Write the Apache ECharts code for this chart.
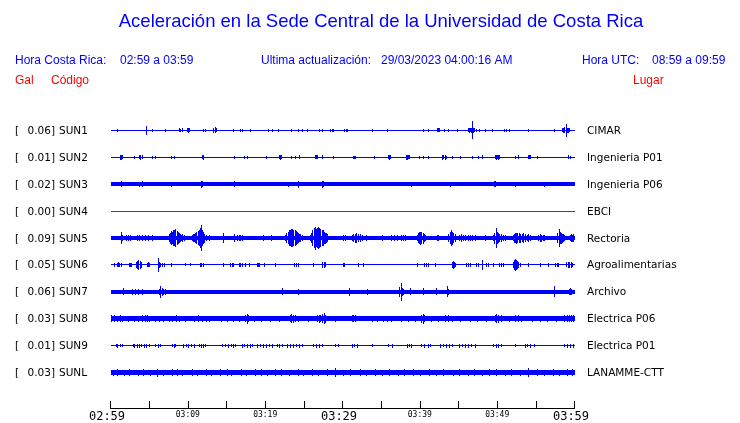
<!DOCTYPE html>
<html><head><meta charset="utf-8">
<script src="https://cdn.jsdelivr.net/npm/echarts@6/dist/echarts.min.js"></script>
<style>html,body{margin:0;padding:0;background:#fff}#c{width:740px;height:423px}</style>
</head><body><div id="c"></div>
<script>
// ---------- DATA ----------
const codes  = ['SUN1','SUN2','SUN3','SUN4','SUN5','SUN6','SUN7','SUN8','SUN9','SUNL'];
const places = ['CIMAR','Ingenieria P01','Ingenieria P06','EBCI','Rectoria','Agroalimentarias','Archivo','Electrica P06','Electrica P01','LANAMME-CTT'];
const peaks  = [0.06,0.01,0.02,0.00,0.09,0.05,0.06,0.03,0.01,0.03];      // gal
const noise  = [0,0,0.011,0,0.012,0,0.011,0.014,0,0.014];                  // background half-amplitude, gal
const tickLabels = ['02:59','03:09','03:19','03:29','03:39','03:49','03:59'];
// spikes: [minute after 02:59, half amplitude in gal]
const sun1 = [[0.86,0.008],[4.56,0.03],[5.33,0.006],[7.0,0.008],[8.8,0.01],[9.0,0.008],[9.3,0.01],[9.9,0.011],[10.05,0.012],[10.2,0.01],[11.96,0.008],[12.26,0.007],[13.3,0.012],[13.45,0.018],[13.6,0.01],[15.8,0.007],[16.8,0.009],[16.95,0.008],[18.1,0.007],[20.4,0.008],[20.9,0.007],[21.7,0.006],[23.4,0.007],[24.2,0.008],[24.7,0.007],[25.4,0.008],[26.9,0.008],[27.4,0.009],[28.4,0.009],[28.6,0.007],[28.8,0.008],[30.2,0.008],[30.4,0.009],[30.6,0.008],[33.8,0.008],[35.8,0.007],[40.4,0.007],[41.0,0.008],[42.2,0.011],[42.35,0.01],[42.5,0.011],[43.1,0.007],[43.7,0.008],[44.8,0.008],[46.2,0.01],[46.35,0.012],[46.5,0.011],[46.6,0.015],[46.75,0.06],[46.9,0.014],[47.05,0.011],[47.2,0.009],[47.6,0.007],[48.4,0.008],[49.3,0.009],[50.9,0.008],[51.2,0.007],[51.5,0.008],[54.0,0.006],[57.3,0.007],[58.4,0.01],[58.55,0.014],[58.7,0.018],[58.85,0.04],[59.0,0.015],[59.15,0.012],[59.3,0.01]];
const sun2 = [[1.2,0.012],[1.32,0.012],[1.44,0.011],[3.05,0.009],[3.66,0.011],[3.8,0.012],[4.13,0.01],[5.38,0.009],[5.8,0.008],[7.8,0.008],[8.17,0.009],[11.8,0.011],[11.92,0.012],[16.0,0.008],[17.25,0.008],[17.68,0.008],[20.1,0.007],[21.8,0.011],[21.95,0.012],[22.1,0.011],[23.4,0.008],[23.8,0.009],[24.4,0.011],[26.45,0.011],[26.6,0.01],[26.72,0.011],[27.35,0.01],[28.8,0.009],[31.3,0.009],[31.45,0.008],[31.6,0.009],[34.1,0.008],[35.9,0.011],[36.05,0.012],[36.2,0.01],[38.15,0.012],[38.3,0.012],[38.45,0.011],[38.65,0.01],[39.9,0.008],[40.4,0.009],[41.0,0.008],[42.9,0.012],[43.05,0.011],[43.2,0.012],[43.4,0.009],[44.1,0.008],[45.2,0.009],[46.7,0.008],[47.5,0.009],[48.1,0.01],[49.7,0.011],[49.85,0.012],[50.0,0.011],[50.15,0.012],[50.3,0.011],[52.3,0.009],[52.7,0.01],[54.0,0.011],[54.15,0.01],[54.3,0.011],[55.1,0.008],[59.1,0.01],[59.4,0.009]];
const sun3 = [[1.37,0.018],[3.74,0.015],[4.09,0.016],[7.8,0.014],[11.74,0.02],[11.87,0.016],[16.0,0.019],[22.9,0.015],[24.2,0.022],[27.4,0.021],[27.53,0.016],[38.8,0.014],[43.9,0.015],[49.6,0.017],[49.72,0.019],[52.3,0.014],[56.1,0.013]];
const sun4 = [];
const sun5 = [[1.37,0.038],[1.5,0.02],[1.94,0.018],[2.2,0.02],[2.58,0.017],[3.4,0.017],[3.7,0.02],[4.1,0.018],[4.5,0.017],[4.9,0.019],[5.4,0.016],
 [7.5,0.025],[7.65,0.035],[7.8,0.045],[7.95,0.04],[8.1,0.055],[8.25,0.05],[8.4,0.06],[8.55,0.045],[8.7,0.038],[8.85,0.03],[9.0,0.025],[9.15,0.02],[9.3,0.022],[9.45,0.017],
 [10.5,0.018],[10.65,0.022],[10.8,0.026],[10.95,0.03],[11.1,0.038],[11.25,0.045],[11.4,0.05],[11.55,0.065],[11.7,0.088],[11.85,0.055],[12.0,0.04],[12.15,0.028],[12.3,0.02],
 [12.8,0.018],[14.5,0.03],[16.0,0.022],[16.3,0.02],[16.6,0.018],[16.8,0.02],[17.0,0.017],[19.7,0.016],[20.7,0.016],
 [22.6,0.02],[22.75,0.03],[22.9,0.04],[23.05,0.05],[23.2,0.055],[23.35,0.06],[23.5,0.063],[23.65,0.055],[23.8,0.05],[23.95,0.045],[24.1,0.04],[24.25,0.03],[24.4,0.025],[24.55,0.022],[24.7,0.02],
 [25.8,0.02],[25.95,0.03],[26.1,0.05],[26.25,0.065],[26.4,0.078],[26.55,0.06],[26.7,0.07],[26.85,0.075],[27.0,0.065],[27.15,0.06],[27.3,0.055],[27.45,0.05],[27.6,0.04],[27.75,0.035],[27.9,0.03],[28.05,0.022],
 [30.1,0.02],[30.3,0.018],[31.2,0.02],[31.4,0.025],[31.6,0.028],[31.8,0.03],[32.0,0.025],[32.2,0.022],[32.5,0.018],
 [33.1,0.016],[35.05,0.017],[36.3,0.016],[36.7,0.018],[37.1,0.017],[37.5,0.016],[37.8,0.018],[38.1,0.016],
 [39.6,0.02],[39.75,0.03],[39.9,0.038],[40.05,0.042],[40.2,0.04],[40.35,0.035],[40.5,0.025],[40.65,0.018],
 [42.2,0.017],[42.4,0.018],[43.7,0.025],[43.85,0.04],[44.0,0.05],[44.15,0.042],[44.3,0.032],[44.5,0.022],
 [45.0,0.02],[45.3,0.022],[45.6,0.02],[45.9,0.018],[46.2,0.02],[46.5,0.018],[46.8,0.02],[47.1,0.017],
 [48.4,0.017],[49.5,0.02],[49.65,0.035],[49.8,0.07],[49.95,0.04],[50.1,0.03],[50.3,0.025],[50.5,0.022],[50.75,0.02],[51.0,0.018],
 [52.0,0.02],[52.15,0.028],[52.3,0.032],[52.45,0.035],[52.6,0.03],[52.8,0.033],[53.0,0.028],[53.2,0.025],[53.4,0.03],[53.6,0.025],[53.8,0.02],[54.0,0.022],[54.2,0.018],
 [55.3,0.02],[55.5,0.022],[55.7,0.021],[55.9,0.02],[56.1,0.018],
 [57.8,0.03],[57.95,0.058],[58.1,0.04],[58.25,0.035],[58.4,0.028],[58.55,0.025],[58.7,0.02],
 [59.4,0.02],[59.55,0.022],[59.7,0.021],[59.85,0.022]];
const sun6 = [[0.43,0.008],[0.86,0.012],[1.0,0.014],[1.15,0.013],[1.3,0.012],[2.4,0.012],[2.55,0.013],[2.67,0.011],[3.3,0.015],[3.45,0.025],[3.6,0.035],[3.75,0.028],[3.9,0.018],[4.73,0.012],[4.85,0.014],[4.97,0.012],[6.1,0.045],[6.25,0.015],[6.45,0.01],[6.7,0.009],[6.9,0.01],[7.83,0.009],[9.6,0.007],[10.3,0.007],[11.6,0.012],[11.75,0.013],[11.9,0.012],[14.6,0.01],[15.5,0.012],[15.7,0.013],[15.9,0.012],[16.6,0.012],[16.8,0.013],[17.0,0.012],[17.4,0.009],[17.9,0.008],[18.9,0.012],[19.05,0.013],[19.2,0.012],[19.9,0.008],[21.3,0.009],[23.7,0.011],[23.95,0.01],[24.2,0.012],[26.2,0.008],[27.4,0.015],[27.55,0.02],[27.75,0.014],[30.0,0.012],[30.12,0.013],[30.24,0.012],[32.0,0.009],[32.7,0.009],[39.6,0.008],[40.6,0.011],[40.8,0.012],[41.0,0.011],[41.9,0.008],[44.1,0.02],[44.25,0.028],[44.4,0.02],[44.6,0.013],[46.0,0.012],[46.2,0.013],[46.45,0.011],[47.3,0.01],[47.5,0.011],[48.0,0.035],[48.5,0.01],[48.8,0.009],[49.5,0.01],[50.3,0.012],[50.5,0.013],[50.75,0.011],[52.0,0.02],[52.15,0.03],[52.3,0.042],[52.45,0.035],[52.6,0.025],[52.75,0.018],[52.9,0.012],[54.0,0.009],[55.5,0.01],[56.6,0.008],[57.5,0.011],[57.7,0.013],[57.9,0.011],[58.9,0.014],[59.1,0.018],[59.3,0.02],[59.5,0.016],[59.7,0.013]];
const sun7 = [[1.63,0.022],[2.8,0.016],[3.2,0.015],[3.6,0.016],[4.1,0.015],[6.3,0.02],[6.45,0.04],[6.6,0.025],[6.8,0.018],[7.0,0.016],[22.15,0.022],[24.2,0.018],[30.9,0.025],[33.2,0.015],[37.35,0.03],[37.5,0.06],[37.65,0.025],[37.8,0.017],[38.7,0.021],[40.35,0.021],[42.1,0.021],[43.5,0.035],[43.62,0.02],[57.4,0.035],[59.3,0.018],[59.42,0.022],[59.55,0.018]];
const sun8 = [[0.1,0.02],[0.4,0.021],[0.8,0.019],[1.2,0.02],[1.5,0.018],[2.3,0.018],[3.0,0.017],[3.6,0.018],[4.1,0.02],[4.4,0.022],[4.7,0.021],[5.0,0.019],[5.8,0.018],[6.3,0.019],[6.8,0.018],[7.5,0.019],[8.0,0.018],[8.5,0.02],[8.8,0.018],[9.6,0.018],[10.8,0.019],[11.3,0.02],[11.8,0.019],[12.3,0.018],[12.7,0.019],[14.3,0.018],[15.0,0.019],[15.8,0.018],[16.6,0.019],[17.45,0.022],[17.6,0.032],[17.75,0.022],[18.5,0.018],[19.4,0.019],[20.6,0.018],[21.8,0.018],[23.2,0.022],[23.4,0.028],[23.6,0.024],[23.9,0.02],[24.3,0.018],[25.5,0.018],[26.7,0.02],[26.9,0.024],[27.1,0.022],[27.4,0.028],[27.55,0.035],[27.75,0.024],[29.0,0.017],[31.2,0.02],[31.4,0.022],[31.6,0.02],[33.8,0.018],[34.5,0.019],[35.2,0.018],[35.8,0.019],[36.3,0.018],[37.5,0.018],[38.5,0.019],[39.4,0.018],[40.2,0.025],[40.4,0.032],[40.6,0.022],[41.5,0.018],[42.3,0.018],[43.2,0.021],[43.6,0.02],[44.1,0.019],[45.2,0.018],[46.5,0.019],[47.4,0.018],[48.6,0.018],[49.7,0.022],[49.9,0.028],[50.1,0.024],[50.5,0.02],[51.5,0.018],[52.3,0.02],[52.7,0.022],[53.1,0.019],[54.5,0.018],[55.6,0.019],[56.5,0.018],[57.6,0.018],[58.7,0.02],[59.0,0.022],[59.3,0.021],[59.6,0.022],[59.8,0.02]];
const sun9 = [[0.65,0.008],[0.9,0.01],[1.2,0.009],[1.5,0.008],[2.88,0.009],[3.1,0.01],[3.4,0.011],[3.7,0.01],[4.0,0.009],[4.3,0.01],[4.6,0.011],[4.95,0.009],[5.8,0.009],[6.1,0.01],[6.45,0.008],[7.96,0.009],[8.2,0.01],[8.4,0.008],[9.38,0.01],[9.7,0.009],[10.0,0.011],[10.4,0.009],[10.75,0.01],[11.4,0.009],[11.7,0.011],[12.0,0.01],[12.26,0.009],[14.4,0.008],[14.8,0.009],[15.2,0.01],[15.6,0.009],[15.9,0.011],[16.13,0.009],[17.0,0.01],[17.3,0.009],[17.7,0.011],[18.0,0.01],[18.28,0.009],[18.9,0.01],[19.3,0.009],[19.7,0.011],[20.1,0.01],[20.5,0.009],[20.86,0.01],[21.5,0.009],[21.8,0.01],[22.15,0.009],[22.8,0.01],[23.2,0.011],[23.6,0.01],[24.0,0.009],[24.4,0.01],[24.7,0.009],[26.24,0.009],[26.6,0.01],[27.0,0.011],[27.3,0.009],[29.0,0.009],[29.46,0.008],[31.2,0.01],[31.5,0.009],[31.83,0.01],[33.8,0.008],[35.9,0.009],[36.35,0.01],[38.3,0.01],[38.6,0.009],[38.9,0.01],[40.2,0.009],[40.6,0.011],[41.0,0.01],[41.3,0.009],[42.6,0.01],[43.0,0.009],[43.4,0.011],[43.8,0.01],[44.1,0.009],[45.0,0.01],[45.4,0.009],[45.8,0.011],[46.2,0.01],[46.6,0.009],[47.1,0.01],[49.5,0.009],[49.8,0.011],[50.1,0.01],[50.5,0.009],[52.3,0.009],[53.55,0.01],[53.9,0.009],[54.3,0.01],[54.8,0.009],[58.7,0.009],[59.0,0.01],[59.4,0.011],[59.8,0.01]];
const sunL = [[0.3,0.018],[0.9,0.02],[1.7,0.018],[2.4,0.019],[3.5,0.018],[4.2,0.02],[5.1,0.018],[6.02,0.025],[6.8,0.018],[7.9,0.019],[8.6,0.02],[9.3,0.018],[10.6,0.019],[11.2,0.018],[12.4,0.02],[13.0,0.018],[14.1,0.019],[15.0,0.02],[15.6,0.018],[16.9,0.019],[17.5,0.018],[18.7,0.02],[19.4,0.022],[20.2,0.018],[21.3,0.019],[22.0,0.02],[23.1,0.018],[24.2,0.019],[24.9,0.018],[26.1,0.02],[26.8,0.018],[28.0,0.019],[29.0,0.028],[30.1,0.018],[31.0,0.019],[32.3,0.02],[33.0,0.018],[34.2,0.019],[35.1,0.018],[36.0,0.02],[37.2,0.018],[37.9,0.019],[39.1,0.02],[40.0,0.018],[41.2,0.019],[42.1,0.018],[43.0,0.02],[44.3,0.018],[45.1,0.019],[46.2,0.018],[47.0,0.02],[48.1,0.018],[49.0,0.019],[49.9,0.022],[51.0,0.018],[51.8,0.02],[53.0,0.018],[54.0,0.028],[55.1,0.019],[56.0,0.018],[57.2,0.02],[58.0,0.018],[59.0,0.019],[59.7,0.02]];
const spikes = [sun1,sun2,sun3,sun4,sun5,sun6,sun7,sun8,sun9,sunL];

// ---------- LAYOUT / STYLE ----------
const ROW = 0.19;           // gal between traces
const SPIKE = 0.13;         // minutes per spike column
const BLUE = '#0000ff', RED = '#ff0000';
const traceColor = i => (i === 3 ? RED : BLUE);
const offs = codes.map((c, i) => -i * ROW);

const chart = echarts.init(document.getElementById('c'), null, {renderer: 'canvas'});

function rectItem(params, api) {
  const t0 = api.value(0), t1 = api.value(1), c = api.value(2), a = api.value(3), k = api.value(4);
  const p0 = api.coord([t0, c]);
  const p1 = api.coord([t1, c]);
  const pa = api.coord([t0, c + a]);
  const half = p0[1] - pa[1];
  const top = Math.floor(p0[1] - half);
  const bot = Math.ceil(p0[1] + half);
  const x0 = Math.round(p0[0]);
  const w = Math.max(1, Math.round(p1[0]) - x0);
  return {type: 'rect', shape: {x: x0, y: top, width: w, height: Math.max(1, bot - top)},
          style: {fill: traceColor(k)}};
}

const series = [];
codes.forEach((code, i) => {
  const data = [[0, 60, offs[i], noise[i], i]];
  spikes[i].forEach(s => data.push([s[0], s[0] + SPIKE, offs[i], s[1], i]));
  series.push({
    type: 'custom', name: code, renderItem: rectItem, data: data,
    encode: {x: [0, 1], y: 2}, silent: true, animation: false, clip: false
  });
});

function fmtLabel(v) {
  if (v % 10 !== 0) return '';
  const lab = tickLabels[v / 10];
  return (v % 30 === 0 ? '{b|' : '{s|') + lab + '}';
}

chart.setOption({
  animation: false,
  backgroundColor: '#fff',
  grid: {left: 110.5, right: 165.5, top: 103.5, bottom: 14, containLabel: false},
  xAxis: {
    type: 'value', min: 0, max: 60, interval: 5, position: 'bottom',
    axisLine: {show: true, onZero: false, lineStyle: {color: '#000', width: 1}},
    axisTick: {show: true, inside: true, length: 7, lineStyle: {color: '#000'}},
    splitLine: {show: false},
    axisLabel: {
      show: true, margin: 3, formatter: fmtLabel, showMinLabel: true, showMaxLabel: true, hideOverlap: false,
      rich: {
        b: {fontFamily: 'DejaVu Sans Mono', fontSize: 12, color: '#000', padding: [0, 7, 0, 0]},
        s: {fontFamily: 'DejaVu Sans Mono', fontSize: 8, color: '#000'}
      }
    }
  },
  yAxis: {type: 'value', min: -(9 + 1.315) * ROW, max: ROW, show: false},
  series: series
});

// ---------- TEXT ----------
const hdr = '12px "Liberation Sans", Arial, sans-serif';
const lab = '10.5px "DejaVu Sans", sans-serif';
const g = [
  {type: 'text', x: 381, y: 22, style: {text: 'Aceleración en la Sede Central de la Universidad de Costa Rica', font: '18.5px "Liberation Sans", Arial, sans-serif', fill: BLUE, align: 'center', verticalAlign: 'middle'}},
  {type: 'text', x: 15, y: 61, style: {text: 'Hora Costa Rica:', font: hdr, fill: BLUE, verticalAlign: 'middle'}},
  {type: 'text', x: 120, y: 61, style: {text: '02:59 a 03:59', font: hdr, fill: BLUE, verticalAlign: 'middle'}},
  {type: 'text', x: 261, y: 61, style: {text: 'Ultima actualización:', font: hdr, fill: BLUE, verticalAlign: 'middle'}},
  {type: 'text', x: 381, y: 61, style: {text: '29/03/2023 04:00:16 AM', font: hdr, fill: BLUE, verticalAlign: 'middle'}},
  {type: 'text', x: 582, y: 61, style: {text: 'Hora UTC:', font: hdr, fill: BLUE, verticalAlign: 'middle'}},
  {type: 'text', x: 652, y: 61, style: {text: '08:59 a 09:59', font: hdr, fill: BLUE, verticalAlign: 'middle'}},
  {type: 'text', x: 15, y: 81, style: {text: 'Gal', font: hdr, fill: RED, verticalAlign: 'middle'}},
  {type: 'text', x: 51, y: 81, style: {text: 'Código', font: hdr, fill: RED, verticalAlign: 'middle'}},
  {type: 'text', x: 633, y: 81, style: {text: 'Lugar', font: hdr, fill: RED, verticalAlign: 'middle'}}
];
codes.forEach((code, i) => {
  const p = chart.convertToPixel({gridIndex: 0}, [0, offs[i]]);
  const q = chart.convertToPixel({gridIndex: 0}, [60, offs[i]]);
  const y = Math.floor(p[1]) + 1;
  g.push({type: 'text', x: 15, y: y, style: {text: '[', font: lab, fill: '#000', verticalAlign: 'middle'}});
  g.push({type: 'text', x: p[0] - 55.5, y: y, style: {text: peaks[i].toFixed(2) + ']', font: lab, fill: '#000', align: 'right', verticalAlign: 'middle'}});
  g.push({type: 'text', x: p[0] - 51.5, y: y, style: {text: code, font: lab, fill: '#000', verticalAlign: 'middle'}});
  g.push({type: 'text', x: q[0] + 12.5, y: y, style: {text: places[i], font: lab, fill: '#000', verticalAlign: 'middle'}});
});
chart.setOption({graphic: {elements: g}});
</script>
</body></html>
